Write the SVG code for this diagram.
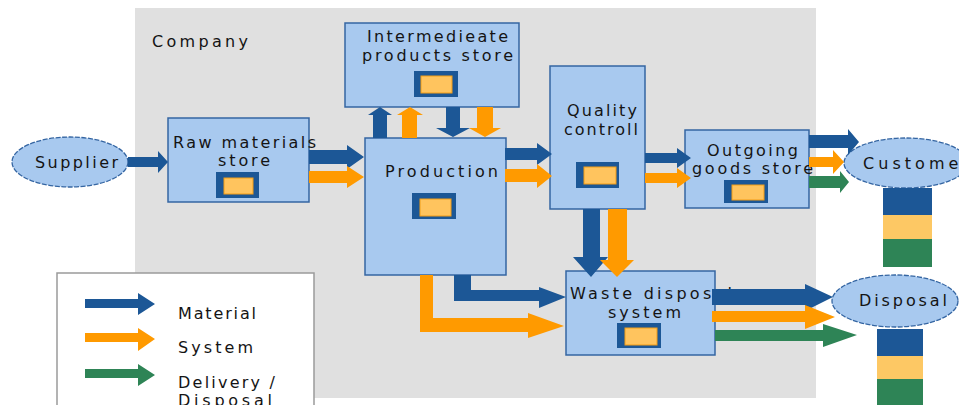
<svg xmlns="http://www.w3.org/2000/svg" width="959" height="405" viewBox="0 0 959 405">
<style>
.bg{fill:#e0e0e0}
.box{fill:#a8c9ef;stroke:#3465a2;stroke-width:1.5}
.ell{fill:#a8c9ef;stroke:#3465a2;stroke-width:1.3;stroke-dasharray:5 1.5}
.io{fill:#1c5796}
.ii{fill:#ffc45e;stroke:#f29d17;stroke-width:1}
.t{font-family:"DejaVu Sans","Liberation Sans",sans-serif;font-size:16px;fill:#141414}
.mat{fill:#1c5796}
.sys{fill:#ff9a00}
.del{fill:#2e8456}
.yel{fill:#fdc864}
.leg{fill:#ffffff;stroke:#9a9a9a;stroke-width:1.5}
</style>
<rect class="bg" x="135" y="8" width="681" height="390"/>
<text class="t" x="152" y="47" textLength="96" lengthAdjust="spacing">Company</text>

<g id="legend">
<rect class="leg" x="57" y="273" width="257" height="145"/>
<path class="mat" d="M85,299 H138 V293 L155,304 L138,315 V308 H85 Z"/>
<path class="sys" d="M85,333 H138 V328 L155,339 L138,351 V342 H85 Z"/>
<path class="del" d="M85,369 H138 V364 L155,375 L138,386 V378 H85 Z"/>
<text class="t" x="178" y="319" textLength="78" lengthAdjust="spacing">Material</text>
<text class="t" x="178" y="353" textLength="75" lengthAdjust="spacing">System</text>
<text class="t" x="178" y="388" textLength="97" lengthAdjust="spacing">Delivery /</text>
<text class="t" x="178" y="406" textLength="94" lengthAdjust="spacing">Disposal</text>
</g>

<g id="supplier">
<ellipse class="ell" cx="70" cy="162" rx="58" ry="25"/>
<text class="t" x="35" y="168" textLength="83" lengthAdjust="spacing">Supplier</text>
</g>

<g id="customer">
<ellipse class="ell" cx="906" cy="163" rx="62" ry="25"/>
<text class="t" x="863" y="169" textLength="106" lengthAdjust="spacing">Customer</text>
<rect class="mat" x="883" y="188" width="49" height="27"/>
<rect class="yel" x="883" y="215" width="49" height="24"/>
<rect class="del" x="883" y="239" width="49" height="28"/>
</g>

<g id="disposal">
<ellipse class="ell" cx="895" cy="301" rx="63" ry="26"/>
<text class="t" x="859" y="306" textLength="88" lengthAdjust="spacing">Disposal</text>
<rect class="mat" x="877" y="329" width="46" height="27"/>
<rect class="yel" x="877" y="356" width="46" height="23"/>
<rect class="del" x="877" y="379" width="46" height="30"/>
</g>

<g id="raw-materials-store">
<rect class="box" x="168" y="118" width="141" height="84"/>
<text class="t" x="173" y="148" textLength="143" lengthAdjust="spacing">Raw materials</text>
<text class="t" x="218" y="166" textLength="52" lengthAdjust="spacing">store</text>
<rect class="io" x="216" y="172" width="43" height="26"/>
<rect class="ii" x="224" y="178" width="29" height="16"/>
</g>

<g id="intermediate-products-store">
<rect class="box" x="345" y="23" width="174" height="84"/>
<text class="t" x="367" y="42" textLength="141" lengthAdjust="spacing">Intermedieate</text>
<text class="t" x="362" y="61" textLength="151" lengthAdjust="spacing">products store</text>
<rect class="io" x="414" y="71" width="44" height="26"/>
<rect class="ii" x="421" y="76" width="31" height="17"/>
</g>

<g id="production">
<rect class="box" x="365" y="138" width="141" height="137"/>
<text class="t" x="385" y="177" textLength="113" lengthAdjust="spacing">Production</text>
<rect class="io" x="412" y="193" width="44" height="26"/>
<rect class="ii" x="420" y="199" width="31" height="17"/>
</g>

<g id="quality-controll">
<rect class="box" x="550" y="66" width="95" height="143"/>
<text class="t" x="567" y="116" textLength="70" lengthAdjust="spacing">Quality</text>
<text class="t" x="564" y="135" textLength="74" lengthAdjust="spacing">controll</text>
<rect class="io" x="576" y="162" width="43" height="26"/>
<rect class="ii" x="584" y="167" width="32" height="17"/>
</g>

<g id="outgoing-goods-store">
<rect class="box" x="685" y="130" width="124" height="78"/>
<text class="t" x="707" y="156" textLength="91" lengthAdjust="spacing">Outgoing</text>
<text class="t" x="692" y="174" textLength="121" lengthAdjust="spacing">goods store</text>
<rect class="io" x="724" y="180" width="44" height="23"/>
<rect class="ii" x="732" y="185" width="32" height="15"/>
</g>

<g id="waste-disposal-system">
<rect class="box" x="566" y="271" width="149" height="84"/>
<text class="t" x="570" y="299" textLength="162" lengthAdjust="spacing">Waste disposal</text>
<text class="t" x="608" y="318" textLength="73" lengthAdjust="spacing">system</text>
<rect class="io" x="617" y="323" width="44" height="25"/>
<rect class="ii" x="625" y="328" width="32" height="17"/>
</g>

<g id="connectors">
<path class="mat" d="M128,157 H158 V151 L168,162 L158,173 V167 H128 Z"/>
<path class="mat" d="M309,150 H347 V145 L364,157 L347,169 V164 H309 Z"/>
<path class="sys" d="M309,171 H347 V166 L364,177 L347,188 V183 H309 Z"/>
<path class="mat" d="M373,138 V115 H368 L380,107 L392,115 H387 V138 Z"/>
<path class="sys" d="M402,138 V115 H397 L410,107 L423,115 H417 V138 Z"/>
<path class="mat" d="M446,107 V128 H436 L453,137 L470,128 H460 V107 Z"/>
<path class="sys" d="M477,107 V128 H469 L485,137 L501,128 H493 V107 Z"/>
<path class="mat" d="M505,148 H537 V143 L552,154 L537,165 V160 H505 Z"/>
<path class="sys" d="M505,169 H537 V164 L552,176 L537,188 V182 H505 Z"/>
<path class="mat" d="M645,153 H677 V148 L691,158 L677,168 V163 H645 Z"/>
<path class="sys" d="M645,173 H677 V168 L691,178 L677,188 V183 H645 Z"/>
<path class="mat" d="M809,135 H848 V129 L859,142 L848,155 V148 H809 Z"/>
<path class="sys" d="M809,157 H833 V150 L844,162 L833,174 V167 H809 Z"/>
<path class="del" d="M809,176 H840 V171 L849,182 L840,193 V188 H809 Z"/>
<path class="mat" d="M583,209 V257 H573 L591,277 L608,257 H600 V209 Z"/>
<path class="sys" d="M608,209 V260 H600 L617,277 L634,260 H627 V209 Z"/>
<path class="mat" d="M454,275 V301 H539 V308 L566,297 L539,287 V290 H471 V275 Z"/>
<path class="sys" d="M420,275 V332 H528 V338 L564,326 L528,313 V318 H433 V275 Z"/>
<path class="mat" d="M712,289 H805 V284 L833,297 L805,311 V305 H712 Z"/>
<path class="sys" d="M712,311 H805 V305 L835,317 L805,329 V322 H712 Z"/>
<path class="del" d="M715,330 H823 V324 L857,335 L823,347 V341 H715 Z"/>
</g>
</svg>
